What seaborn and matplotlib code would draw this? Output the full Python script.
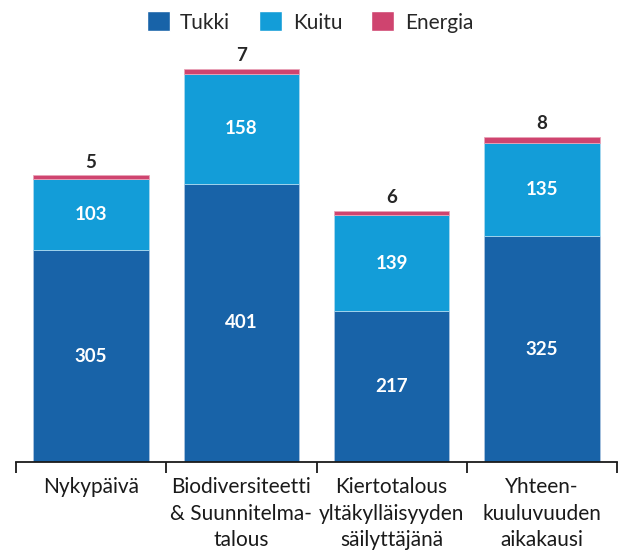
import numpy as np
import pandas as pd
import matplotlib
matplotlib.use("Agg")
import matplotlib.pyplot as plt
import seaborn as sns
from matplotlib.patches import Patch

# data
scenarios = ["Nykypäivä",
             "Biodiversiteetti\n& Suunnitelma-\ntalous",
             "Kiertotalous\nyltäkylläisyyden\nsäilyttäjänä",
             "Yhteen-\nkuuluvuuden\naikakausi"]
tukki = [305, 401, 217, 325]
kuitu = [103, 158, 139, 135]
energia = [5, 7, 6, 8]

c_tukki = "#1863a8"
c_kuitu = "#139dd8"
c_energia = "#cf446f"

sns.set_theme(style="white")
plt.rcParams["font.family"] = ["Lato", "DejaVu Sans"]

df = pd.DataFrame({"scenario": scenarios, "Tukki": tukki, "Kuitu": kuitu, "Energia": energia})
df["b_kuitu"] = df["Tukki"]
df["b_energia"] = df["Tukki"] + df["Kuitu"]

fig = plt.figure(figsize=(6.2, 5.52), dpi=100)
ax = fig.add_axes([16 / 620, 90 / 552, 601 / 620, 0.7543])

w = 0.77
sns.barplot(data=df, x="scenario", y="Tukki", color=c_tukki, width=w,
            saturation=1, edgecolor="#a9c4e0", linewidth=0.6, ax=ax)
sns.barplot(data=df, x="scenario", y="Kuitu", bottom=df["b_kuitu"], color=c_kuitu,
            width=w, saturation=1, edgecolor="#a9d8ef", linewidth=0.6, ax=ax)
sns.barplot(data=df, x="scenario", y="Energia", bottom=df["b_energia"], color=c_energia,
            width=w, saturation=1, edgecolor="#e9a3b8", linewidth=0.6, ax=ax)

# value labels
for i in range(len(scenarios)):
    ax.text(i, tukki[i] / 2, str(tukki[i]), ha="center", va="center",
            color="white", fontsize=13.5, fontweight="bold")
    ax.text(i, tukki[i] + kuitu[i] / 2, str(kuitu[i]), ha="center", va="center",
            color="white", fontsize=13.5, fontweight="bold")
    ax.text(i, tukki[i] + kuitu[i] + energia[i] + 7, str(energia[i]), ha="center",
            va="bottom", color="#262626", fontsize=13.5, fontweight="bold")

ax.set_xlim(-0.5, 3.5)
ax.set_ylim(0, 600)
ax.set_xlabel("")
ax.set_ylabel("")
ax.set_yticks([])
for s in ["top", "right", "left"]:
    ax.spines[s].set_visible(False)
ax.spines["bottom"].set_color("#1a1a1a")
ax.spines["bottom"].set_linewidth(1.3)

# category separators as major ticks, labels on minor ticks
ax.set_xticks(np.arange(-0.5, 4, 1))
ax.set_xticklabels([])
ax.set_xticks(range(len(scenarios)), minor=True)
ax.set_xticklabels(scenarios, minor=True, fontsize=15, color="#1a1a1a", linespacing=1.4)
ax.tick_params(axis="x", which="major", bottom=True, length=8, width=1.3, color="#1a1a1a")
ax.tick_params(axis="x", which="minor", bottom=True, length=0, pad=11)
for lab in ax.get_xticklabels(minor=True):
    lab.set_verticalalignment("top")

handles = [Patch(facecolor=c_tukki, label="Tukki"),
           Patch(facecolor=c_kuitu, label="Kuitu"),
           Patch(facecolor=c_energia, label="Energia")]
fig.legend(handles=handles, loc="center", bbox_to_anchor=(0.5, 1 - 22 / 552), ncol=3,
           frameon=False, fontsize=15, handlelength=1.1, handleheight=1.1,
           handletextpad=0.5, columnspacing=1.4, labelcolor="#262626")

fig.savefig("out.png", dpi=100)
